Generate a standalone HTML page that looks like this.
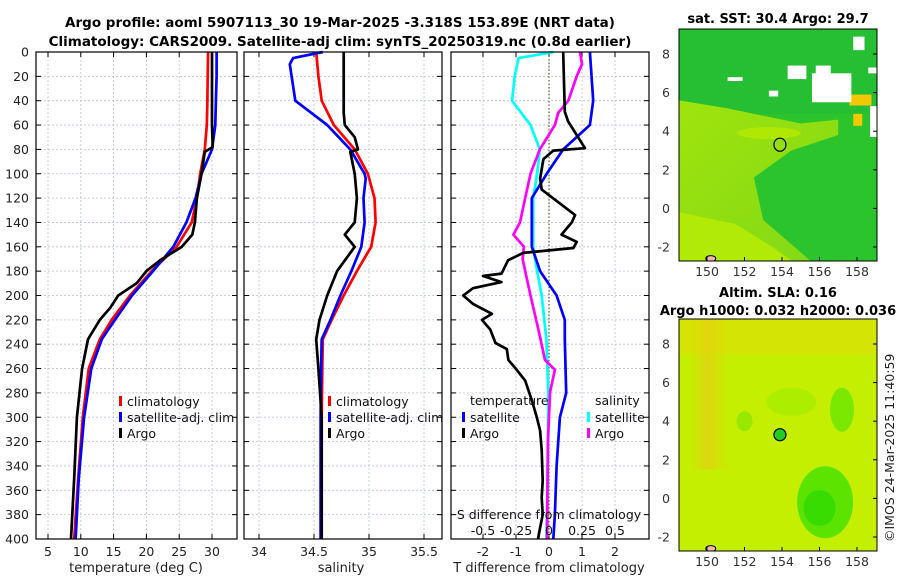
<!DOCTYPE html>
<html><head><meta charset="utf-8">
<style>
body{margin:0;background:#fff;}
svg{font-family:"DejaVu Sans","Liberation Sans",sans-serif;}
</style></head>
<body>
<svg id="fig" width="900" height="580" viewBox="0 0 900 580" xmlns="http://www.w3.org/2000/svg">
<defs>
<linearGradient id="slaStripe" x1="0" x2="1" y1="0" y2="0">
<stop offset="0" stop-color="#e8d010" stop-opacity="0"/>
<stop offset="0.5" stop-color="#ecc818" stop-opacity="0.9"/>
<stop offset="1" stop-color="#e8d010" stop-opacity="0"/>
</linearGradient>
<linearGradient id="sstLow" x1="0" x2="1" y1="0" y2="1">
<stop offset="0" stop-color="#a0e40c"/>
<stop offset="1" stop-color="#80d818"/>
</linearGradient>
</defs>
<rect width="900" height="580" fill="#fff"/>
<text x="340" y="27" font-size="13.5" font-weight="bold" text-anchor="middle">Argo profile: aoml 5907113_30 19-Mar-2025 -3.318S 153.89E (NRT data)</text>
<text x="340" y="46" font-size="13.5" font-weight="bold" text-anchor="middle">Climatology: CARS2009. Satellite-adj clim: synTS_20250319.nc (0.8d earlier)</text>
<g id="p1"></g>
<g id="p2"></g>
<g id="p3"></g>
<g id="maps"></g>
<text transform="translate(894,542) rotate(-90)" font-size="12.5" fill="#222">©IMOS 24-Mar-2025 11:40:59</text>
</svg>
<script>
// ---- data ----
const depthTicks=[0,20,40,60,80,100,120,140,160,180,200,220,240,260,280,300,320,340,360,380,400];
const tempTicks=[5,10,15,20,25,30,35];
const salTicks=[34,34.5,35,35.5];
const diffTicks=[-2,-1,0,1,2];
const sdiffTicks=[-0.5,-0.25,0,0.25,0.5];
const sdiffTickLabels=['-0.5','-0.25','0','0.25','0.5'];

const climTDepth=[0,20,40,60,80,100,120,140,160,180,200,220,236,260,300,350,400];
const climT=[29.4,29.35,29.3,29.2,28.9,28.2,27.7,26.9,24.6,20.8,17.5,14.7,12.9,11.2,10.3,9.6,9.0];
const satTDepth=[0,20,40,60,80,100,120,140,160,180,200,220,236,260,300,350,400];
const satT=[30.7,30.7,30.6,30.5,30.0,28.4,27.5,26.1,24.1,21.0,17.8,15.2,13.2,11.6,10.5,9.7,9.2];
const argoTDepth=[0,20,40,60,78,82,100,120,140,150,160,171,180,190,200,210,220,236,260,300,350,400];
const argoT=[30.0,30.0,30.0,30.0,30.1,28.9,28.4,27.7,27.4,27.0,25.4,22.1,20.0,18.5,15.7,14.5,12.9,11.1,10.2,9.4,9.0,8.5];

const climSDepth=[0,20,40,60,80,100,120,140,160,180,200,220,236,260,300,400];
const climS=[34.52,34.54,34.57,34.68,34.87,34.99,35.05,35.06,35.02,34.89,34.77,34.66,34.58,34.575,34.57,34.57];
const satSDepth=[0,5,10,40,60,80,100,104,120,140,160,180,200,220,236,260,300,400];
const satS=[34.58,34.31,34.28,34.33,34.62,34.83,34.96,34.97,34.95,34.96,34.93,34.84,34.74,34.65,34.57,34.565,34.56,34.56];
const argoSDepth=[0,50,60,70,80,82,100,120,140,150,160,180,200,220,236,260,300,400];
const argoS=[34.77,34.77,34.78,34.87,34.90,34.83,34.87,34.89,34.87,34.78,34.87,34.71,34.62,34.55,34.52,34.54,34.57,34.57];

const satSdDepth=[0,5,20,40,60,80,100,120,160,180,200,236,280,340,400];
const satSd=[0.033,-0.23,-0.26,-0.28,-0.14,-0.07,-0.09,-0.12,-0.12,-0.09,-0.055,-0.02,-0.005,-0.01,-0.02];
const argoSdDepth=[0,10,20,40,50,60,80,100,120,140,150,160,170,200,228,253,261,279,320,400];
const argoSd=[0.235,0.25,0.21,0.146,0.07,0.045,-0.07,-0.14,-0.18,-0.22,-0.27,-0.19,-0.2,-0.14,-0.08,-0.03,0.045,0.008,-0.008,-0.015];
const satTdDepth=[0,40,60,80,100,120,160,180,200,220,236,280,300,340,380,400];
const satTd=[1.24,1.34,1.24,0.43,-0.07,-0.52,-0.52,-0.27,0.23,0.48,0.48,0.52,0.33,0.23,0.18,0.13];
const argoTdDepth=[0,49,57,79,81,88,104,113,134,140,150,156,161,165,171,182,184,189,194,200,207,215,220,228,239,244,253,261,270,286,300,311,327,352,366,380,395,400];
const argoTd=[0.43,0.48,0.58,1.09,0.13,-0.17,-0.27,-0.22,0.79,0.69,0.38,0.84,0.74,-0.78,-1.24,-1.44,-2.0,-1.44,-2.3,-2.6,-2.3,-1.73,-2.03,-1.78,-1.62,-1.28,-1.23,-0.98,-0.72,-0.52,-0.37,-0.27,-0.22,-0.19,-0.22,-0.19,-0.3,-0.33];

// ---- helpers ----
const NS='http://www.w3.org/2000/svg';
function mk(tag,attrs,parent,txt){const e=document.createElementNS(NS,tag);for(const k in attrs)e.setAttribute(k,attrs[k]);if(txt!==undefined)e.textContent=txt;parent.appendChild(e);return e;}
const Y0=52,Y1=539;
const yD=d=>Y0+(d/400)*(Y1-Y0);

function panel(g,x0,x1,xs,ticks,labels,showY,gridTicks){
  for(const d of depthTicks){ if(d===0||d===400)continue;
    const gl=mk('line',{x1:x0,x2:x1,y1:yD(d),y2:yD(d),stroke:'#b8c0dc','stroke-width':0.8,'stroke-dasharray':'2,2'},g);
    
    
  }
  for(const t of gridTicks){const x=xs(t); if(x<=x0||x>=x1)continue;
    const gl=mk('line',{x1:x,x2:x,y1:Y0,y2:Y1,stroke:'#b8c0dc','stroke-width':0.8,'stroke-dasharray':'2,2'},g);
    
    
  }
  for(const d of depthTicks){const y=yD(d);
    mk('line',{x1:x0,x2:x0+5,y1:y,y2:y,stroke:'#000'},g);
    mk('line',{x1:x1,x2:x1-5,y1:y,y2:y,stroke:'#000'},g);
    if(showY){const t=mk('text',{x:x0-7,y:y+4.5,'font-size':12.5,'text-anchor':'end',fill:'#222'},g,String(d));
      
      }
  }
  ticks.forEach((v,i)=>{const x=xs(v); if(x<x0||x>x1+1)return;
    mk('line',{x1:x,x2:x,y1:Y1,y2:Y1-5,stroke:'#000'},g);
    mk('line',{x1:x,x2:x,y1:Y0,y2:Y0+5,stroke:'#000'},g);
    const t=mk('text',{x:x,y:556,'font-size':12.5,'text-anchor':'middle',fill:'#222'},g,labels[i]);
    
    
  });
}
function frame(g,x0,x1){const r=mk('rect',{x:x0,y:Y0,width:x1-x0,height:Y1-Y0,fill:'none',stroke:'#000','stroke-width':1.2},g);
  
  }
function line(g,depths,vals,xs,color,name){
  const pts=depths.map((d,i)=>xs(vals[i]).toFixed(1)+','+yD(d).toFixed(1)).join(' ');
  const p=mk('polyline',{points:pts,fill:'none',stroke:color,'stroke-width':2.7,'stroke-linejoin':'round'},g);
  
  
}
function legendItem(g,x,y,color,label,name){
  const b=mk('rect',{x:x,y:y-9,width:3,height:10,fill:color},g);
  const t=mk('text',{x:x+8,y:y+1,'font-size':12.5,fill:'#111'},g,label);
  
  
  
  
}

// ---- panel 1 ----
const g1=document.getElementById('p1');
const xT=t=>48+(t-5)*6.56;
panel(g1,36,237,xT,tempTicks,tempTicks.map(String),true,[5,10,15,20,25,30]);
line(g1,climTDepth,climT,xT,'#ff0000','climatology-temperature-line');
line(g1,satTDepth,satT,xT,'#0000ff','satellite-temperature-line');
line(g1,argoTDepth,argoT,xT,'#000000','argo-temperature-line');
frame(g1,36,237);
legendItem(g1,119,405,'#ff0000','climatology','legend-climatology');
legendItem(g1,119,421,'#0000ff','satellite-adj. clim','legend-satellite');
legendItem(g1,119,437,'#000000','Argo','legend-argo');
let t=mk('text',{x:136,y:572,'font-size':13,'text-anchor':'middle',fill:'#222'},g1,'temperature (deg C)');



// ---- panel 2 ----
const g2=document.getElementById('p2');
const xS=s=>314+(s-34.5)*110;
panel(g2,244,442,xS,salTicks,salTicks.map(String),false,salTicks);
line(g2,climSDepth,climS,xS,'#ff0000','climatology-salinity-line');
line(g2,satSDepth,satS,xS,'#0000ff','satellite-salinity-line');
line(g2,argoSDepth,argoS,xS,'#000000','argo-salinity-line');
frame(g2,244,442);
legendItem(g2,328,405,'#ff0000','climatology','legend-climatology');
legendItem(g2,328,421,'#0000ff','satellite-adj. clim','legend-satellite');
legendItem(g2,328,437,'#000000','Argo','legend-argo');
t=mk('text',{x:341,y:572,'font-size':13,'text-anchor':'middle',fill:'#222'},g2,'salinity');



// ---- panel 3 ----
const g3=document.getElementById('p3');
const xD=v=>549+v*33;
const xSD=v=>549+v*132;
panel(g3,451,649,xD,diffTicks,diffTicks.map(String),false,diffTicks);
const zl=mk('line',{x1:xD(0),x2:xD(0),y1:Y0,y2:Y1,stroke:'#556b2f','stroke-width':1.2,'stroke-dasharray':'1.5,2'},g3);


line(g3,satSdDepth,satSd,xSD,'#00ffff','satellite-salinity-difference-line');
line(g3,argoSdDepth,argoSd,xSD,'#ff00ff','argo-salinity-difference-line');
line(g3,satTdDepth,satTd,xD,'#0000ff','satellite-temperature-difference-line');
line(g3,argoTdDepth,argoTd,xD,'#000000','argo-temperature-difference-line');
frame(g3,451,649);
t=mk('text',{x:470,y:405,'font-size':12.5,fill:'#111'},g3,'temperature');


t=mk('text',{x:595,y:405,'font-size':12.5,fill:'#111'},g3,'salinity');


legendItem(g3,462,421,'#0000ff','satellite','legend-temperature-satellite');
legendItem(g3,462,437,'#000000','Argo','legend-temperature-argo');
legendItem(g3,587,421,'#00ffff','satellite','legend-salinity-satellite');
legendItem(g3,587,437,'#ff00ff','Argo','legend-salinity-argo');
t=mk('text',{x:549,y:519,'font-size':12.5,'text-anchor':'middle',fill:'#111'},g3,'S difference from climatology');


sdiffTicks.forEach((v,i)=>{const tt=mk('text',{x:xSD(v),y:535,'font-size':12.5,'text-anchor':'middle',fill:'#111'},g3,sdiffTickLabels[i]);
  
  });
t=mk('text',{x:549,y:572,'font-size':13,'text-anchor':'middle',fill:'#222'},g3,'T difference from climatology');



// ---- maps ----
const gm=document.getElementById('maps');
const MX0=679,MX1=877;
const lonX=l=>707+(l-150)*18.75;
const lonTicks=[150,152,154,156,158];
const latTicks=[-2,0,2,4,6,8];
function drawMap(g,yTop,yBot,lat8,latm2,draw,name){
  const latY=l=>lat8+(8-l)*(latm2-lat8)/10;
  const mg=mk('g',{},g);
  
  
  const cp=mk('clipPath',{id:name+'-clip'},mg);
  mk('rect',{x:MX0,y:yTop,width:MX1-MX0,height:yBot-yTop},cp);
  const inner=mk('g',{'clip-path':'url(#'+name+'-clip)'},mg);
  draw(inner,latY);
  mk('rect',{x:MX0,y:yTop,width:MX1-MX0,height:yBot-yTop,fill:'none',stroke:'#000','stroke-width':1},mg);
  for(const l of lonTicks){const x=lonX(l);
    mk('line',{x1:x,x2:x,y1:yBot,y2:yBot-4,stroke:'#000'},mg);
    const tt=mk('text',{x:x,y:yBot+15,'font-size':12.5,'text-anchor':'middle',fill:'#333'},mg,String(l));
    
    }
  for(const l of latTicks){const y=latY(l);
    mk('line',{x1:MX1,x2:MX1-4,y1:y,y2:y,stroke:'#000'},mg);
    const tt=mk('text',{x:MX0-9,y:y+4.5,'font-size':12.5,'text-anchor':'end',fill:'#333'},mg,String(l));
    
    }
}
drawMap(gm,29,261,54,247,(g,latY)=>{
  mk('rect',{x:MX0,y:29,width:200,height:232,fill:'#2cc42c'},g);
  mk('rect',{x:MX0,y:29,width:200,height:85,fill:'#24bc34',opacity:0.7},g);
  mk('path',{d:`M${MX0},${latY(5.6)} L${lonX(151)},${latY(5.2)} L${lonX(153)},${latY(4.8)} L${lonX(155)},${latY(4.4)} L${lonX(157)},${latY(4.6)} L${lonX(157)},${latY(3.8)} L${lonX(154.5)},${latY(3.0)} L${lonX(152.5)},${latY(1.6)} L${lonX(153)},${latY(-0.6)} L${lonX(155.5)},${latY(-2.7)} L${MX0},${latY(-2.7)} Z`,fill:'url(#sstLow)'},g);
  mk('path',{d:`M${MX0},${latY(-0.2)} L${lonX(151.5)},${latY(-0.8)} L${lonX(153.5)},${latY(-2.0)} L${lonX(154.5)},${latY(-2.7)} L${MX0},${latY(-2.7)} Z`,fill:'#b0ea06'},g);
  mk('ellipse',{cx:lonX(153.3),cy:latY(3.9),rx:32,ry:6,fill:'#b6ea00',opacity:0.8},g);
  mk('rect',{x:lonX(157.6),y:latY(5.9),width:22,height:11,fill:'#f2c800'},g);
  mk('rect',{x:lonX(157.8),y:latY(4.9),width:9,height:12,fill:'#f2c800'},g);
  const whites=[[155.6,7.0,2.1,1.5],[157.8,8.9,0.6,0.7],[155.8,7.4,0.8,0.6],[154.3,7.4,1.0,0.7],[153.3,6.1,0.5,0.3],[151.1,6.8,0.8,0.2],[158.6,7.3,0.5,0.3],[158.7,5.3,0.4,1.6]];
  for(const w of whites) mk('rect',{x:lonX(w[0]),y:latY(w[1]),width:w[2]*18.75,height:w[3]*19.3,fill:'#fff'},g);
  mk('ellipse',{cx:lonX(150.2),cy:latY(-2.6),rx:5,ry:3,fill:'#f4b8a0',stroke:'#000'},g);
  mk('ellipse',{cx:lonX(153.89),cy:latY(3.3),rx:6,ry:6.5,fill:'none',stroke:'#000','stroke-width':1.2},g);
},'sst-map');
t=mk('text',{x:778,y:23,'font-size':13,'font-weight':'bold','text-anchor':'middle'},gm,'sat. SST: 30.4 Argo: 29.7');



drawMap(gm,319,551,344,537,(g,latY)=>{
  mk('rect',{x:MX0,y:319,width:200,height:232,fill:'#c4ef00'},g);
  mk('rect',{x:lonX(149),y:319,width:40,height:150,fill:'url(#slaStripe)',opacity:0.7},g);
  mk('rect',{x:MX0,y:319,width:200,height:35,fill:'#e8d808',opacity:0.45},g);
  mk('ellipse',{cx:lonX(156.3),cy:latY(-0.2),rx:28,ry:36,fill:'#5ce400'},g);
  mk('ellipse',{cx:lonX(156),cy:latY(-0.5),rx:16,ry:18,fill:'#38dc00'},g);
  mk('ellipse',{cx:lonX(157.2),cy:latY(4.6),rx:12,ry:22,fill:'#7ae800'},g);
  mk('ellipse',{cx:lonX(154.5),cy:latY(5),rx:25,ry:14,fill:'#a8ec00',opacity:0.8},g);
  mk('ellipse',{cx:lonX(152),cy:latY(4),rx:8,ry:10,fill:'#98e800'},g);
  mk('ellipse',{cx:lonX(150.2),cy:latY(-2.6),rx:5,ry:3,fill:'#f4b8a0',stroke:'#000'},g);
  mk('circle',{cx:lonX(153.89),cy:latY(3.3),r:6,fill:'#22cc22',stroke:'#000','stroke-width':1.2},g);
},'sla-map');
t=mk('text',{x:778,y:297,'font-size':13,'font-weight':'bold','text-anchor':'middle'},gm,'Altim. SLA: 0.16');


t=mk('text',{x:778,y:315,'font-size':13,'font-weight':'bold','text-anchor':'middle'},gm,'Argo h1000: 0.032 h2000: 0.036');


</script>
</body></html>
